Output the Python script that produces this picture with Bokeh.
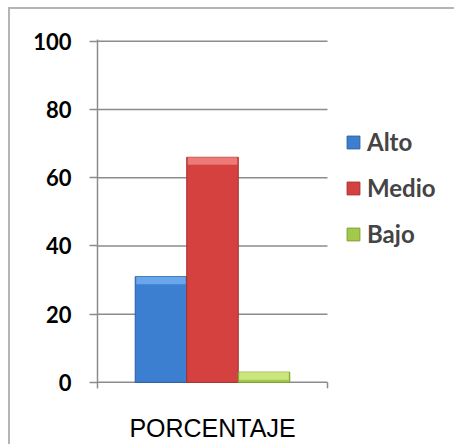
from bokeh.plotting import figure
from bokeh.models import Range1d, Legend, LegendItem, ColumnDataSource, FixedTicker
from bokeh.embed import file_html
from bokeh.resources import INLINE

category = ["PORCENTAJE"]
series = ["Alto", "Medio", "Bajo"]
values = [31, 66, 3]
colors = ["#3c7fd0", "#d4413e", "#a3c94b"]
top_colors = ["#6aa6ec", "#ec7a76", "#cbe67e"]
edge_colors = ["#2a5f9e", "#a52f2c", "#7f9e33"]
y_ticks = [0, 20, 40, 60, 80, 100]

W, H = 446, 437
left, right, top, bottom = 87, 5, 30, 58
frame_w = W - left - right
frame_h = H - top - bottom
px_per_cat = 230.0
px_per_unit = 3.41
y0 = -1.8

p = figure(x_range=Range1d(0, frame_w / px_per_cat),
           y_range=Range1d(y0, y0 + frame_h / px_per_unit),
           width=W, height=H, output_backend="svg", toolbar_location=None,
           min_border_left=left, min_border_top=top, min_border_right=right,
           min_border_bottom=bottom)
p.styles = {"margin-top": "7px", "margin-left": "8px",
            "border-top": "2px solid #b4b4b4", "border-left": "2px solid #b4b4b4"}
p.outline_line_color = None
p.background_fill_color = "white"
p.border_fill_color = "white"

n_cat = len(category)
cat_centers = [k + 0.5 for k in range(n_cat)]

# gridlines spanning the category area only
grid_src = ColumnDataSource(dict(y=y_ticks, x0=[0] * len(y_ticks), x1=[n_cat] * len(y_ticks)))
p.segment(x0="x0", x1="x1", y0="y", y1="y", source=grid_src,
          line_color="#8c8c8c", line_width=1.5)
# right end tick of the category axis
p.segment(x0=[n_cat], x1=[n_cat], y0=[0], y1=[y0], line_color="#8c8c8c", line_width=1.5)

bw = 0.224
items = []
for i, (name, v) in enumerate(zip(series, values)):
    xs = [c + (i - 1) * bw for c in cat_centers]
    src = ColumnDataSource(dict(x=xs, top=[v], cap=[max(v - 2.2, 0)]))
    r = p.vbar(x="x", top="top", bottom=0, width=bw, source=src,
               fill_color=colors[i], line_color=edge_colors[i], line_width=1)
    p.vbar(x="x", top="top", bottom="cap", width=bw * 0.96, source=src,
           fill_color=top_colors[i], line_color=None)
    items.append(LegendItem(label=name, renderers=[r]))

p.xgrid.grid_line_color = None
p.ygrid.grid_line_color = None
p.yaxis.ticker = y_ticks
p.yaxis.axis_line_color = "#8c8c8c"
p.yaxis.axis_line_width = 1.5
p.yaxis.major_tick_line_color = "#8c8c8c"
p.yaxis.major_tick_line_width = 1.5
p.yaxis.major_tick_out = 8
p.yaxis.major_tick_in = 0
p.yaxis.minor_tick_line_color = None
p.yaxis.major_label_standoff = 18
p.yaxis.major_label_text_font = "Lato"
p.yaxis.major_label_text_font_style = "bold"
p.yaxis.major_label_text_font_size = "22px"
p.yaxis.major_label_text_color = "black"

p.xaxis.ticker = FixedTicker(ticks=cat_centers)
p.xaxis.major_label_overrides = {c: lab for c, lab in zip(cat_centers, category)}
p.xaxis.axis_line_color = None
p.xaxis.major_tick_line_color = None
p.xaxis.minor_tick_line_color = None
p.xaxis.major_label_standoff = 19
p.xaxis.major_label_text_font = "Liberation Sans"
p.xaxis.major_label_text_font_size = "25px"
p.xaxis.major_label_text_color = "black"

legend = Legend(items=items, location=(248, 140), padding=0, margin=0,
                spacing=17, glyph_width=16, glyph_height=16, label_standoff=6,
                label_text_font="Lato", label_text_font_size="24px",
                label_text_font_style="bold",
                border_line_color=None, background_fill_alpha=0)
p.add_layout(legend)

open("out.html", "w").write(file_html(p, INLINE))
